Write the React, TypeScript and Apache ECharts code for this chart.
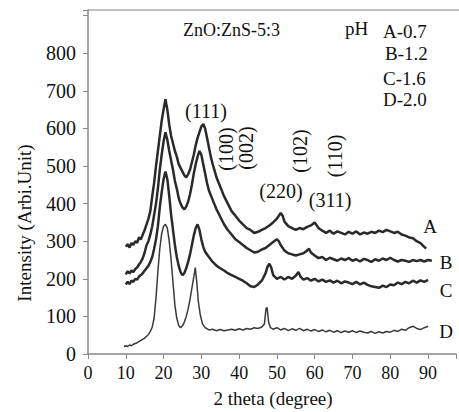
import React, { useEffect, useRef } from "react";
import * as echarts from "echarts";

const SERIF = "Liberation Serif";

const xTickLabels = ["0", "10", "20", "30", "40", "50", "60", "70", "80", "90"];
const yTickLabels = ["0", "100", "200", "300", "400", "500", "600", "700", "800"];

// [2theta, intensity]
const seriesA: number[][] = [
  [10, 285], [10.5, 292], [11, 283], [11.5, 295], [12, 290], [12.5, 300], [13, 296], [13.5, 310], [14, 305], [14.5, 318],
  [15, 330], [15.5, 345], [16, 360], [16.5, 380], [17, 420], [17.5, 455], [18, 500], [18.5, 540], [19, 580], [19.5, 620],
  [20, 650], [20.5, 678], [21, 650], [21.5, 610], [22, 580], [22.5, 560], [23, 540], [23.5, 525], [24, 505], [24.5, 495],
  [25, 485], [25.5, 475], [26, 470], [26.5, 478], [27, 490], [27.5, 510], [28, 530], [28.5, 555], [29, 575], [29.5, 590],
  [30, 605], [30.5, 612], [31, 600], [31.5, 575], [32, 550], [32.5, 525], [33, 505], [33.5, 488], [34, 470], [35, 445],
  [36, 420], [37, 400], [38, 380], [39, 368], [40, 355], [41, 345], [42, 335], [43, 330], [44, 322], [45, 325],
  [46, 330], [47, 335], [48, 342], [49, 350], [50, 360], [51, 375], [51.5, 368], [52, 352], [53, 340], [54, 335],
  [55, 330], [56, 335], [57, 332], [58, 338], [59, 342], [60, 350], [61, 335], [62, 328], [63, 322], [64, 328],
  [65, 320], [66, 326], [67, 322], [68, 318], [69, 325], [70, 320], [71, 326], [72, 318], [73, 323], [74, 320],
  [75, 325], [76, 322], [77, 328], [78, 324], [79, 330], [80, 326], [81, 322], [82, 325], [83, 318], [84, 315],
  [85, 310], [86, 308], [87, 300], [88, 295], [89, 285], [89.5, 280],
];

const seriesB: number[][] = [
  [10, 212], [10.5, 220], [11, 214], [11.5, 222], [12, 218], [12.5, 226], [13, 230], [13.5, 238], [14, 245], [14.5, 255],
  [15, 270], [15.5, 290], [16, 300], [16.5, 318], [17, 340], [17.5, 370], [18, 400], [18.5, 440], [19, 490], [19.5, 530],
  [20, 565], [20.5, 590], [21, 570], [21.5, 540], [22, 515], [22.5, 490], [23, 460], [23.5, 440], [24, 415], [24.5, 400],
  [25, 390], [25.5, 385], [26, 392], [26.5, 405], [27, 425], [27.5, 450], [28, 480], [28.5, 505], [29, 525], [29.5, 540],
  [30, 530], [30.5, 505], [31, 480], [31.5, 455], [32, 435], [33, 410], [34, 385], [35, 365], [36, 345], [37, 330],
  [38, 318], [39, 305], [40, 298], [41, 290], [42, 282], [43, 276], [44, 270], [45, 272], [46, 278], [47, 282],
  [48, 290], [49, 298], [50, 305], [50.5, 300], [51, 290], [52, 275], [53, 268], [54, 265], [55, 262], [56, 265],
  [57, 268], [58, 275], [58.5, 280], [59, 270], [60, 262], [61, 255], [62, 258], [63, 250], [64, 256], [65, 252],
  [66, 248], [67, 254], [68, 250], [69, 255], [70, 248], [71, 252], [72, 246], [73, 253], [74, 250], [75, 245],
  [76, 252], [77, 248], [78, 254], [79, 250], [80, 256], [81, 250], [82, 246], [83, 250], [84, 248], [85, 245],
  [86, 250], [87, 247], [88, 250], [89, 246], [90, 250], [91, 248],
];

const seriesC: number[][] = [
  [10, 185], [10.5, 192], [11, 186], [11.5, 195], [12, 192], [12.5, 200], [13, 198], [13.5, 206], [14, 210], [14.5, 215],
  [15, 222], [15.5, 228], [16, 235], [16.5, 245], [17, 258], [17.5, 280], [18, 305], [18.5, 340], [19, 390], [19.5, 430],
  [20, 465], [20.5, 485], [21, 465], [21.5, 420], [22, 370], [22.5, 330], [23, 290], [23.5, 258], [24, 235], [24.5, 218],
  [25, 210], [25.5, 215], [26, 228], [26.5, 245], [27, 265], [27.5, 290], [28, 315], [28.5, 335], [29, 345], [29.5, 330],
  [30, 305], [30.5, 285], [31, 272], [32, 258], [33, 245], [34, 235], [35, 228], [36, 222], [37, 215], [38, 210],
  [39, 205], [40, 200], [41, 195], [42, 188], [43, 180], [44, 178], [45, 185], [46, 195], [47, 215], [47.5, 232],
  [48, 240], [48.5, 230], [49, 210], [50, 200], [51, 205], [52, 198], [53, 205], [54, 200], [55, 208], [55.7, 218],
  [56.3, 205], [57, 198], [58, 202], [59, 195], [60, 200], [61, 193], [62, 198], [63, 192], [64, 196], [65, 190],
  [66, 195], [67, 188], [68, 193], [69, 190], [70, 186], [71, 192], [72, 185], [73, 190], [74, 184], [75, 180],
  [76, 178], [77, 176], [78, 182], [79, 178], [80, 185], [81, 183], [82, 190], [83, 186], [84, 192], [85, 188],
  [86, 195], [87, 190], [88, 196], [89, 192], [90, 197],
];

const seriesD: number[][] = [
  [9.5, 20], [10, 22], [10.5, 20], [11, 24], [11.5, 22], [12, 26], [13, 30], [14, 36], [15, 42], [16, 52],
  [16.5, 60], [17, 72], [17.5, 95], [18, 150], [18.5, 220], [19, 280], [19.5, 320], [20, 340], [20.5, 345], [21, 335],
  [21.5, 300], [22, 250], [22.5, 190], [23, 130], [23.5, 95], [24, 76], [24.5, 70], [25, 75], [25.5, 85], [26, 100],
  [26.5, 120], [27, 145], [27.5, 175], [28, 205], [28.4, 230], [28.8, 190], [29.2, 140], [29.7, 105], [30.3, 80], [31, 70],
  [32, 64], [33, 66], [34, 62], [35, 65], [36, 62], [37, 64], [38, 66], [39, 63], [40, 67], [41, 64],
  [42, 68], [43, 66], [44, 70], [45, 68], [46, 72], [46.7, 80], [47.1, 120], [47.4, 124], [47.8, 85], [48.3, 70],
  [49, 66], [50, 70], [51, 64], [52, 68], [53, 62], [54, 67], [55, 63], [56, 68], [57, 62], [58, 66],
  [59, 61], [60, 65], [61, 60], [62, 64], [63, 59], [64, 63], [65, 58], [66, 62], [67, 57], [68, 61],
  [69, 58], [70, 62], [71, 57], [72, 61], [73, 58], [74, 56], [75, 60], [76, 55], [77, 59], [78, 56],
  [79, 60], [80, 58], [81, 63], [82, 60], [83, 66], [84, 63], [85, 70], [86, 74], [87, 68], [88, 65],
  [89, 70], [90, 74],
];

const curveNames = ["A", "B", "C", "D"];
const legendLines = ["A-0.7", "B-1.2", "C-1.6", "D-2.0"];
const title = "ZnO:ZnS-5:3";
const peakLabels = ["(111)", "(100)", "(002)", "(102)", "(110)", "(220)", "(311)"];

export default function App() {
  const ref = useRef<HTMLDivElement>(null);
  useEffect(() => {
    if (!ref.current) return;
    const chart = echarts.init(ref.current, null, { renderer: "svg" });
    const txt = (text: string, x: number, y: number, size: number, align = "left", rot = 0) => ({
      type: "text",
      x,
      y,
      rotation: rot,
      style: {
        text,
        fill: "#111",
        fontFamily: SERIF,
        fontSize: size,
        align,
        verticalAlign: "middle",
      },
      z: 10,
    });
    const line = (data: number[][], width: number, color: string) => ({
      type: "line",
      data,
      showSymbol: false,
      symbol: "none",
      smooth: false,
      lineStyle: { width, color },
      z: 3,
    });
    chart.setOption({
      animation: false,
      backgroundColor: "#fff",
      textStyle: { fontFamily: SERIF },
      grid: { left: 88, right: 0, top: 10, bottom: 58 },
      xAxis: {
        type: "value",
        min: 0,
        max: 97.4,
        interval: 10,
        axisLine: { show: true, lineStyle: { color: "#888", width: 1.5 } },
        axisTick: { show: true, inside: false, length: 5, lineStyle: { color: "#888" } },
        splitLine: { show: false },
        axisLabel: {
          margin: 10,
          color: "#111",
          fontFamily: SERIF,
          fontSize: 18,
          formatter: (v: number) => {
            const i = Math.round(v / 10);
            return Math.abs(v - i * 10) < 1e-6 && i < xTickLabels.length ? xTickLabels[i] : "";
          },
        },
      },
      yAxis: {
        type: "value",
        min: 0,
        max: 915,
        interval: 100,
        axisLine: { show: true, lineStyle: { color: "#888", width: 1.5 } },
        axisTick: { show: true, inside: false, length: 5, lineStyle: { color: "#888" } },
        splitLine: { show: false },
        axisLabel: {
          margin: 12,
          color: "#111",
          fontFamily: SERIF,
          fontSize: 20,
          formatter: (v: number) => {
            const i = Math.round(v / 100);
            return Math.abs(v - i * 100) < 1e-6 && i < yTickLabels.length ? yTickLabels[i] : "";
          },
        },
      },
      series: [
        line(seriesA, 2.5, "#2a2a2a"),
        line(seriesB, 2.5, "#2a2a2a"),
        line(seriesC, 2.5, "#2a2a2a"),
        line(seriesD, 1.5, "#3a3a3a"),
      ],
      graphic: [
        { type: "line", shape: { x1: 88, y1: 10, x2: 459, y2: 10 }, style: { stroke: "#aaa", lineWidth: 1.5 } },
        txt("Intensity (Arbi.Unit)", 24, 223, 19, "center", Math.PI / 2),
        txt("2 theta (degree)", 273, 398, 19, "center"),
        txt(title, 183, 30, 18),
        txt("pH", 345, 28, 19),
        txt(legendLines[0], 383, 31, 19),
        txt(legendLines[1], 385, 53, 19),
        txt(legendLines[2], 383, 78, 19),
        txt(legendLines[3], 383, 99, 19),
        txt(peakLabels[0], 206, 111, 20, "center"),
        txt(peakLabels[1], 226, 149, 20, "center", Math.PI / 2),
        txt(peakLabels[2], 246, 148, 20, "center", Math.PI / 2),
        txt(peakLabels[3], 300, 151, 20, "center", Math.PI / 2),
        txt(peakLabels[4], 335, 156, 20, "center", Math.PI / 2),
        txt(peakLabels[5], 281, 191, 20, "center"),
        txt(peakLabels[6], 330, 200, 20, "center"),
        txt(curveNames[0], 430, 226, 19, "center"),
        txt(curveNames[1], 446, 262, 19, "center"),
        txt(curveNames[2], 446, 290, 19, "center"),
        txt(curveNames[3], 446, 331, 19, "center"),
      ],
    });
    return () => chart.dispose();
  }, []);
  return (
    <div
      ref={ref}
      style={{ position: "fixed", left: 0, top: 0, width: 459, height: 412, background: "#fff" }}
    />
  );
}
